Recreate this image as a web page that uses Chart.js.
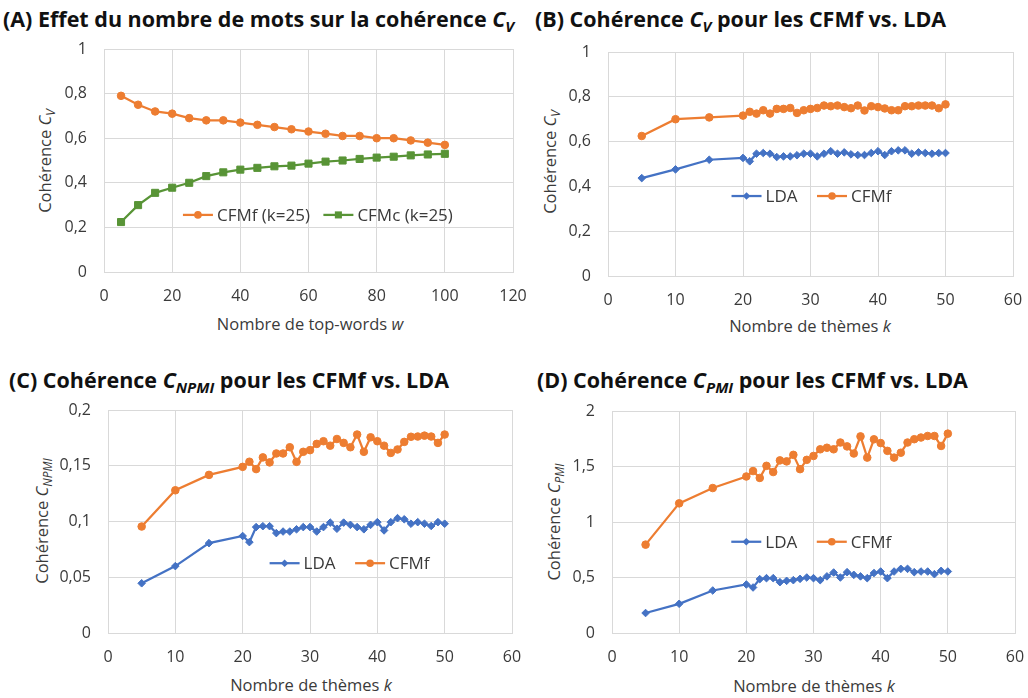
<!DOCTYPE html>
<html lang="fr">
<head>
<meta charset="UTF-8">
<title>Cohérence CFMf vs. LDA</title>
<script src="https://cdn.jsdelivr.net/npm/chart.js"></script>
<style>
  body { margin: 0; background: #fff; overflow: hidden; }
  #fig { position: relative; width: 1028px; height: 698px; font-family: 'Open Sans', sans-serif; }
  .ptitle { position: absolute; font-weight: 700; font-size: 21.5px; line-height: 26px; color: #111; white-space: nowrap; }
  .ptitle i, .atitle i { font-style: italic; }
  .ptitle sub { font-size: 15px; vertical-align: -5px; line-height: 0; }
  .atitle { position: absolute; font-size: 16.5px; line-height: 22px; color: #3a3a3a; white-space: nowrap; transform: translate(-50%, -50%); }
  .atitle sub { font-size: 12px; vertical-align: -4px; line-height: 0; font-style: italic; }
  .atitle.rot { transform: translate(-50%, -50%) rotate(-90deg); }
  .wrap { position: absolute; }
</style>
</head>
<body>
<div id="fig">
  <div class="ptitle" style="left:3px;top:6px">(A) Effet du nombre de mots sur la cohérence <i>C<sub>V</sub></i></div>
  <div class="ptitle" style="left:535px;top:6px">(B) Cohérence <i>C<sub>V</sub></i> pour les CFMf vs. LDA</div>
  <div class="ptitle" style="left:9px;top:367px">(C) Cohérence <i>C<sub>NPMI</sub></i> pour les CFMf vs. LDA</div>
  <div class="ptitle" style="left:537px;top:367px">(D) Cohérence <i>C<sub>PMI</sub></i> pour les CFMf vs. LDA</div>

  <div class="atitle rot" style="left:45px;top:161px">Cohérence <i>C</i><sub>V</sub></div>
  <div class="atitle rot" style="left:550px;top:162px">Cohérence <i>C</i><sub>V</sub></div>
  <div class="atitle rot" style="left:42px;top:521px">Cohérence <i>C</i><sub>NPMI</sub></div>
  <div class="atitle rot" style="left:554px;top:522px">Cohérence <i>C</i><sub>PMI</sub></div>

  <div class="atitle" style="left:310px;top:324px">Nombre de top-words <i>w</i></div>
  <div class="atitle" style="left:810px;top:326px">Nombre de thèmes <i>k</i></div>
  <div class="atitle" style="left:311px;top:685px">Nombre de thèmes <i>k</i></div>
  <div class="atitle" style="left:814px;top:686px">Nombre de thèmes <i>k</i></div>

  <div class="wrap" style="left:44px;top:19px"><canvas id="chartA" width="503" height="289"></canvas></div>
  <div class="wrap" style="left:548px;top:22px"><canvas id="chartB" width="499" height="290"></canvas></div>
  <div class="wrap" style="left:48px;top:380px"><canvas id="chartC" width="498" height="289"></canvas></div>
  <div class="wrap" style="left:552px;top:381px"><canvas id="chartD" width="497" height="288"></canvas></div>
</div>

<script>
// --- data ---
const wordsW = [5, 10, 15, 20, 25, 30, 35, 40, 45, 50, 55, 60, 65, 70, 75, 80, 85, 90, 95, 100];
const cvCfmfByW = [0.79, 0.75, 0.72, 0.71, 0.69, 0.68, 0.68, 0.67, 0.66, 0.65, 0.64, 0.63, 0.62, 0.61, 0.61, 0.60, 0.60, 0.59, 0.58, 0.57];
const cvCfmcByW = [0.224, 0.30, 0.355, 0.378, 0.40, 0.43, 0.447, 0.459, 0.467, 0.474, 0.477, 0.486, 0.495, 0.50, 0.507, 0.513, 0.517, 0.523, 0.527, 0.53];

const themesK = [5, 10, 15, 20, 21, 22, 23, 24, 25, 26, 27, 28, 29, 30, 31, 32, 33, 34, 35, 36, 37, 38, 39, 40, 41, 42, 43, 44, 45, 46, 47, 48, 49, 50];

const cvLda = [0.437, 0.476, 0.519, 0.527, 0.512, 0.546, 0.549, 0.546, 0.531, 0.534, 0.534, 0.539, 0.546, 0.546, 0.534, 0.546, 0.557, 0.546, 0.552, 0.543, 0.54, 0.54, 0.549, 0.557, 0.54, 0.557, 0.561, 0.561, 0.546, 0.552, 0.549, 0.546, 0.549, 0.549];
const cvCfmf = [0.625, 0.70, 0.708, 0.716, 0.733, 0.725, 0.74, 0.725, 0.746, 0.746, 0.75, 0.728, 0.74, 0.746, 0.75, 0.761, 0.758, 0.761, 0.754, 0.749, 0.761, 0.739, 0.758, 0.754, 0.748, 0.74, 0.74, 0.758, 0.758, 0.761, 0.761, 0.761, 0.749, 0.766];

const npmiLda = [0.0446, 0.060, 0.0806, 0.087, 0.0815, 0.095, 0.0958, 0.0958, 0.0896, 0.091, 0.091, 0.093, 0.095, 0.095, 0.091, 0.095, 0.099, 0.0935, 0.099, 0.097, 0.095, 0.093, 0.097, 0.0994, 0.092, 0.0994, 0.103, 0.102, 0.098, 0.0994, 0.098, 0.096, 0.0994, 0.098];
const npmiCfmf = [0.0955, 0.128, 0.1418, 0.149, 0.1536, 0.147, 0.1575, 0.153, 0.161, 0.161, 0.1666, 0.1535, 0.1625, 0.164, 0.1696, 0.172, 0.168, 0.174, 0.1705, 0.1666, 0.178, 0.1625, 0.1755, 0.172, 0.168, 0.1615, 0.1646, 0.1714, 0.176, 0.1762, 0.177, 0.1762, 0.1705, 0.178];

const pmiLda = [0.18, 0.263, 0.383, 0.437, 0.41, 0.485, 0.494, 0.494, 0.458, 0.47, 0.476, 0.488, 0.50, 0.494, 0.476, 0.51, 0.545, 0.50, 0.548, 0.524, 0.51, 0.494, 0.54, 0.554, 0.494, 0.554, 0.578, 0.578, 0.548, 0.554, 0.554, 0.53, 0.56, 0.554];
const pmiCfmf = [0.796, 1.168, 1.306, 1.41, 1.459, 1.397, 1.506, 1.45, 1.555, 1.546, 1.605, 1.476, 1.56, 1.595, 1.655, 1.669, 1.655, 1.716, 1.681, 1.617, 1.771, 1.58, 1.745, 1.711, 1.641, 1.58, 1.624, 1.716, 1.746, 1.761, 1.775, 1.775, 1.685, 1.796];

const ORANGE = '#ED7D31', BLUE = '#4472C4', GREEN = '#589436';
const GRID = '#D9D9D9', TICK = '#3a3a3a';

function pts(xs, ys) {
  return xs.map((x, i) => ({ x: x, y: ys[i] }));
}

// french decimal comma on the ticks
const comma = v => String(v).replace('.', ',');

function marker(ctx, style, x, y, r, color) {
  ctx.fillStyle = color;
  ctx.beginPath();
  if (style === 'rect') {
    const s = r * Math.SQRT1_2;
    ctx.rect(x - s, y - s, 2 * s, 2 * s);
  } else if (style === 'rectRot') {
    ctx.moveTo(x, y - r); ctx.lineTo(x + r, y); ctx.lineTo(x, y + r); ctx.lineTo(x - r, y);
    ctx.closePath();
  } else {
    ctx.arc(x, y, r, 0, Math.PI * 2);
  }
  ctx.fill();
}

// legend drawn inside the plot area, like the Excel one
const inLegend = {
  id: 'inLegend',
  afterDatasetsDraw(chart, args, opts) {
    const ctx = chart.ctx, area = chart.chartArea;
    const sets = chart.data.datasets;
    const lineLen = 30, gap = 4;
    ctx.save();
    ctx.font = '17px "Open Sans"';
    ctx.textBaseline = 'middle';
    const itemW = Math.max(...sets.map(d => lineLen + gap + ctx.measureText(d.label).width)) + opts.spacing;
    let x = area.left + opts.fx * area.width;
    const y = area.top + opts.fy * area.height;
    sets.forEach(d => {
      ctx.strokeStyle = d.borderColor;
      ctx.lineWidth = d.borderWidth;
      ctx.beginPath();
      ctx.moveTo(x, y);
      ctx.lineTo(x + lineLen, y);
      ctx.stroke();
      marker(ctx, d.pointStyle, x + lineLen / 2, y, d.pointRadius, d.borderColor);
      ctx.fillStyle = TICK;
      ctx.fillText(d.label, x + lineLen + gap, y + 1);
      x += itemW;
    });
    ctx.restore();
  }
};

function series(label, xs, ys, color, style, radius) {
  return {
    label: label,
    data: pts(xs, ys),
    borderColor: color,
    backgroundColor: color,
    borderWidth: 2.25,
    pointStyle: style,
    pointRadius: radius,
    pointBorderWidth: 1,
    pointBackgroundColor: color,
    pointBorderColor: color,
    tension: 0
  };
}

function makeChart(id, datasets, xMax, xStep, yMax, yStep, legend) {
  return new Chart(document.getElementById(id), {
    type: 'line',
    data: { datasets: datasets },
    plugins: [inLegend],
    options: {
      responsive: false,
      animation: false,
      devicePixelRatio: 1,
      // top/right padding larger than the tick label overhang so the plot box is fixed
      layout: { padding: { left: 0, top: 30, right: 34, bottom: 0 } },
      plugins: {
        legend: { display: false },
        tooltip: { enabled: false },
        inLegend: legend
      },
      scales: {
        x: {
          type: 'linear', min: 0, max: xMax,
          afterFit: s => { s.height = 36; },
          grid: { color: GRID, lineWidth: 1, drawTicks: false },
          border: { color: GRID },
          ticks: { stepSize: xStep, padding: 15, color: TICK, font: { family: 'Open Sans', size: 16 }, maxRotation: 0 }
        },
        y: {
          min: 0, max: yMax,
          afterFit: s => { s.width = 60; },
          grid: { color: GRID, lineWidth: 1, drawTicks: false },
          border: { color: GRID },
          ticks: { stepSize: yStep, padding: 17, color: TICK, font: { family: 'Open Sans', size: 16 }, callback: comma }
        }
      }
    }
  });
}

makeChart('chartA', [
  series('CFMf (k=25)', wordsW, cvCfmfByW, ORANGE, 'circle', 3.8),
  series('CFMc (k=25)', wordsW, cvCfmcByW, GREEN, 'rect', 5)
], 120, 20, 1, 0.2, { fx: 0.193, fy: 0.744, spacing: 11 });

makeChart('chartB', [
  series('LDA', themesK, cvLda, BLUE, 'rectRot', 3.8),
  series('CFMf', themesK, cvCfmf, ORANGE, 'circle', 3.8)
], 60, 10, 1, 0.2, { fx: 0.305, fy: 0.643, spacing: 11 });

makeChart('chartC', [
  series('LDA', themesK, npmiLda, BLUE, 'rectRot', 3.8),
  series('CFMf', themesK, npmiCfmf, ORANGE, 'circle', 3.8)
], 60, 10, 0.2, 0.05, { fx: 0.40, fy: 0.687, spacing: 11 });

makeChart('chartD', [
  series('LDA', themesK, pmiLda, BLUE, 'rectRot', 3.8),
  series('CFMf', themesK, pmiCfmf, ORANGE, 'circle', 3.8)
], 60, 10, 2, 0.5, { fx: 0.296, fy: 0.589, spacing: 11 });
</script>
</body>
</html>
